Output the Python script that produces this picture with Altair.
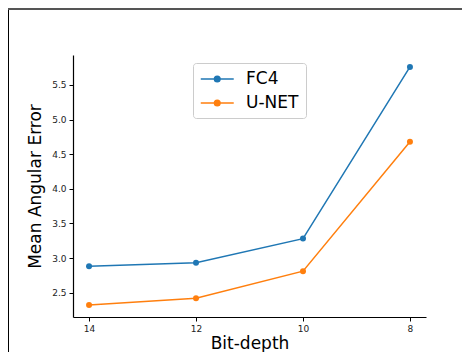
import altair as alt
import pandas as pd

bit_depth = [14, 12, 10, 8]
fc4 = [2.88, 2.93, 3.28, 5.76]
unet = [2.32, 2.42, 2.81, 4.68]
series = ["FC4", "U-NET"]
colors = ["#1f77b4", "#ff7f0e"]

rows = []
for b, v in zip(bit_depth, fc4):
    rows.append({"bit": b, "err": v, "model": "FC4"})
for b, v in zip(bit_depth, unet):
    rows.append({"bit": b, "err": v, "model": "U-NET"})
df = pd.DataFrame(rows)

FONT = "DejaVu Sans"
def circ(cx, r):
    return f"M{cx - r},0A{r},{r},0,1,0,{cx + r},0A{r},{r},0,1,0,{cx - r},0Z"
# unit = 8.25 px; line spans 33 px starting at the symbol's left edge
sym = "M-1,0L3,0" + circ(1, 0.05) + circ(1, 0.18) + circ(1, 0.34)

lines = alt.Chart(df).mark_line(point=alt.OverlayMarkDef(size=36, filled=True, opacity=1), strokeWidth=1.5).encode(
    x=alt.X("bit:Q",
            scale=alt.Scale(domain=[7.7, 14.3], reverse=True, nice=False, zero=False),
            axis=alt.Axis(values=bit_depth, title="Bit-depth", format="d", grid=False)),
    y=alt.Y("err:Q",
            scale=alt.Scale(domain=[2.148, 5.932], nice=False, zero=False),
            axis=alt.Axis(values=[2.5, 3.0, 3.5, 4.0, 4.5, 5.0, 5.5], format=".1f",
                          title="Mean Angular Error", grid=False)),
    color=alt.Color("model:N", scale=alt.Scale(domain=series, range=colors),
                    legend=alt.Legend(title=None, orient="none", legendX=120, legendY=8,
                                      symbolType=sym, symbolSize=272, symbolStrokeWidth=1.5,
                                      labelFontSize=17, labelFont=FONT, labelColor="#000",
                                      rowPadding=7, padding=7, labelOffset=28,
                                      strokeColor="#cccccc", cornerRadius=3, fillColor="white")),
)

one = pd.DataFrame({"k": [0]})
left_frame = alt.Chart(one).mark_rule(color="#000", strokeWidth=1).encode(
    x=alt.value(-64.5), y=alt.value(-47), y2=alt.value(297))
top_frame = alt.Chart(one).mark_rule(color="#555", strokeWidth=2).encode(
    x=alt.value(-65), x2=alt.value(389), y=alt.value(-46))

chart = alt.layer(left_frame, top_frame, lines).properties(
    width=353, height=262,
    autosize=alt.AutoSizeParams(type="none"),
    padding={"left": 65, "top": 47, "right": 36, "bottom": 35},
).configure_view(stroke=None).configure_axis(
    domainColor="#000", domainWidth=1.2, tickColor="#000", tickSize=4, tickWidth=1,
    labelFont=FONT, labelFontSize=9, labelColor="#222", labelPadding=3,
    titleFont=FONT, titleFontSize=17, titleFontWeight="normal", titleColor="#000",
).configure_axisY(titlePadding=7).configure_axisX(titlePadding=2)

chart.save("out.html", embed_options={"renderer": "svg", "actions": False})
